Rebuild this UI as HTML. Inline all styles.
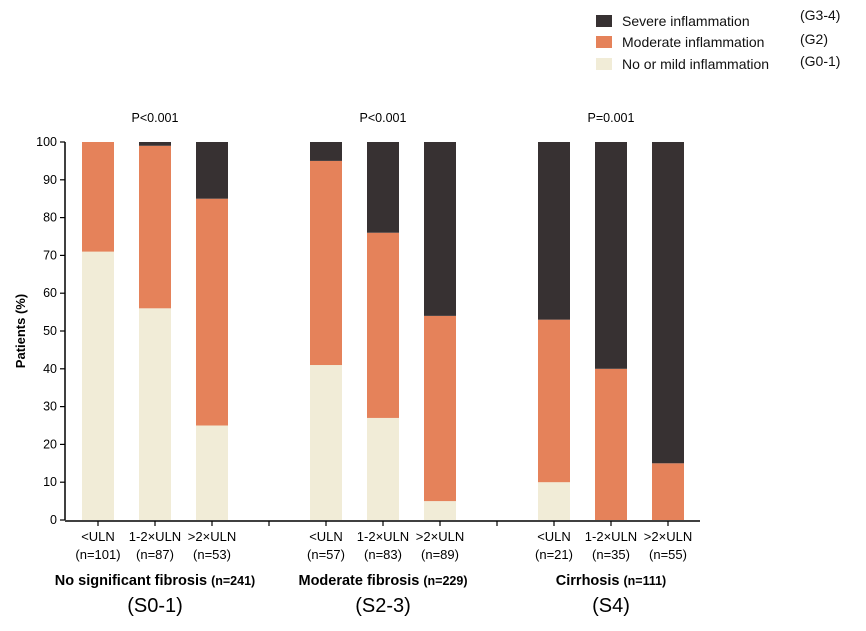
<!DOCTYPE html>
<html><head><meta charset="utf-8"><style>
body{margin:0;background:#fff;width:866px;height:626px;overflow:hidden;font-family:"Liberation Sans","Noto Sans CJK SC",sans-serif}
</style></head><body>
<svg id="chart" width="866" height="626" xmlns="http://www.w3.org/2000/svg" font-family="Liberation Sans, sans-serif">
<g font-size="14" fill="#111">
<rect x="596" y="15" width="16" height="12" fill="#373132"/><text x="622" y="26">Severe inflammation</text><text x="800" y="20">(G3-4)</text>
<rect x="596" y="36" width="16" height="12" fill="#e5825a"/><text x="622" y="47">Moderate inflammation</text><text x="800" y="44">(G2)</text>
<rect x="596" y="58" width="16" height="12" fill="#f1ecd7"/><text x="622" y="69">No or mild inflammation</text><text x="800" y="66">(G0-1)</text>
</g>
<g id="axes"></g>
<g id="bars"></g>
<g id="labels"></g>
</svg>
<script>
const groups=["No significant fibrosis","Moderate fibrosis","Cirrhosis"];
const groupN=["(n=241)","(n=229)","(n=111)"];
const groupCodes=["(S0-1)","(S2-3)","(S4)"];
const pvalues=["P<0.001","P<0.001","P=0.001"];
const categories=["<ULN","1-2×ULN",">2×ULN","<ULN","1-2×ULN",">2×ULN","<ULN","1-2×ULN",">2×ULN"];
const catN=["(n=101)","(n=87)","(n=53)","(n=57)","(n=83)","(n=89)","(n=21)","(n=35)","(n=55)"];
const mild=[71,56,25,41,27,5,10,0,0];
const moderate=[29,43,60,54,49,49,43,40,15];
const severe=[0,1,15,5,24,46,47,60,85];
const yTicks=[0,10,20,30,40,50,60,70,80,90,100];
const NS="http://www.w3.org/2000/svg";
function y(v){return 520-v*3.78;}
function xc(i){return 98+Math.floor(i/3)*228+(i%3)*57;}
function mk(parent,tag,attrs,text){const e=document.createElementNS(NS,tag);for(const k in attrs)e.setAttribute(k,attrs[k]);if(text!==undefined)e.textContent=text;document.getElementById(parent).appendChild(e);return e;}
let e;
e=mk("axes","line",{x1:65,y1:y(0),x2:65,y2:y(100),stroke:"#000","stroke-width":1.5});


e=mk("axes","line",{x1:65,y1:521,x2:700,y2:521,stroke:"#000","stroke-width":1.5});


yTicks.forEach(t=>{
 e=mk("axes","line",{x1:60,y1:y(t),x2:65,y2:y(t),stroke:"#000","stroke-width":1.2});
 
 
 e=mk("axes","text",{x:57,y:y(t)+4,"text-anchor":"end","font-size":12.5},t);
 
 
});
e=mk("axes","text",{x:25,y:331,"text-anchor":"middle","font-size":13,"font-weight":"bold",transform:"rotate(-90 25 331)"},"Patients (%)");


const ticksX=[];categories.forEach((c,i)=>ticksX.push(xc(i)));ticksX.push(269,497);
ticksX.forEach(tx=>{
 e=mk("axes","line",{x1:tx,y1:521,x2:tx,y2:526,stroke:"#000","stroke-width":1.2});
 
 
});
const bw=32;
categories.forEach((c,i)=>{
 const x=xc(i)-bw/2;
 const segs=[[0,mild[i],"#f1ecd7","bar-mild"],[mild[i],mild[i]+moderate[i],"#e5825a","bar-moderate"],[mild[i]+moderate[i],mild[i]+moderate[i]+severe[i],"#373132","bar-severe"]];
 segs.forEach(s=>{
  if(s[1]<=s[0])return;
  e=mk("bars","rect",{x:x,y:y(s[1]),width:bw,height:y(s[0])-y(s[1]),fill:s[2]});
  
  
 });
 e=mk("labels","text",{x:xc(i),y:541,"text-anchor":"middle","font-size":13},c);
 
 
 e=mk("labels","text",{x:xc(i),y:559,"text-anchor":"middle","font-size":13},catN[i]);
 
 
});
groups.forEach((g,k)=>{
 const cx=xc(k*3+1);
 e=mk("labels","text",{x:cx,y:122,"text-anchor":"middle","font-size":12.5},pvalues[k]);
 
 
 e=mk("labels","text",{x:cx,y:585,"text-anchor":"middle","font-size":14.5,"font-weight":"bold"});
 
 
 const t1=document.createElementNS(NS,"tspan");t1.textContent=g+" ";e.appendChild(t1);
 const t2=document.createElementNS(NS,"tspan");t2.setAttribute("font-size","12.5");t2.textContent=groupN[k];e.appendChild(t2);
 e=mk("labels","text",{x:cx,y:612,"text-anchor":"middle","font-size":20},groupCodes[k]);
 
 
});
</script>
</body></html>
